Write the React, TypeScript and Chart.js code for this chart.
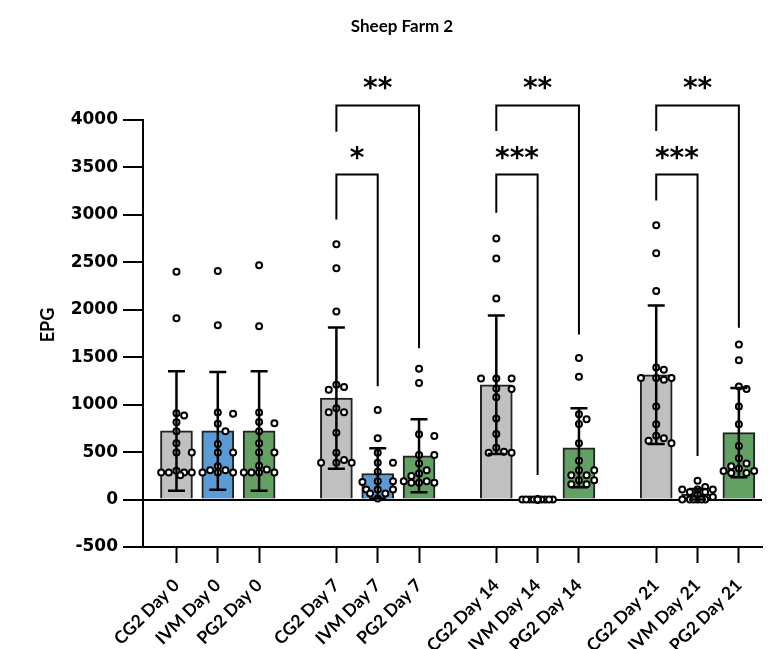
import React, { useEffect, useRef } from 'react';
import { Chart, registerables } from 'chart.js';

Chart.register(...registerables);

const chartTitle = 'Sheep Farm 2';
const yAxisTitle = 'EPG';

const categories = [
  'CG2 Day 0', 'IVM Day 0', 'PG2 Day 0',
  'CG2 Day 7', 'IVM Day 7', 'PG2 Day 7',
  'CG2 Day 14', 'IVM Day 14', 'PG2 Day 14',
  'CG2 Day 21', 'IVM Day 21', 'PG2 Day 21',
];

const meanEPG = [723, 723, 723, 1069, 275, 461, 1210, 0, 546, 1315, 55, 705];
const sdEPG = [630, 620, 630, 745, 265, 385, 730, 0, 417, 730, 55, 470];

const yTicks = [-500, 0, 500, 1000, 1500, 2000, 2500, 3000, 3500, 4000];

// individual animals (EPG)
const cg2Day0 = [2402, 1911, 910, 885, 815, 720, 593, 497, 497, 303, 286, 286, 286, 286, 257];
const ivmDay0 = [2408, 1837, 917, 903, 800, 720, 585, 497, 497, 352, 310, 310, 286, 286, 286];
const pg2Day0 = [2469, 1827, 917, 818, 804, 720, 593, 497, 497, 356, 317, 286, 286, 286, 286];
const cg2Day7 = [2691, 2437, 1982, 1210, 1185, 1157, 963, 921, 921, 705, 493, 416, 387, 387, 387];
const ivmDay7 = [945, 645, 493, 387, 387, 292, 194, 194, 186, 106, 106, 106, 63, 63, 11];
const pg2Day7 = [1379, 1228, 688, 670, 469, 469, 381, 310, 275, 247, 194, 194, 176, 176, 176];
const cg2Day14 = [2751, 2540, 2119, 1276, 1276, 1276, 1170, 1164, 1079, 853, 691, 546, 504, 493, 493];
const ivmDay14 = [0, 0, 0, 0, 0, 0, 0, 0, 0, 0, 0, 0, 0, 0, 0];
const pg2Day14 = [1492, 1294, 899, 847, 797, 593, 408, 310, 310, 257, 257, 204, 204, 160, 160];
const cg2Day21 = [2892, 2596, 2197, 1393, 1368, 1280, 1280, 1280, 1262, 980, 794, 673, 646, 620, 593];
const ivmDay21 = [197, 133, 106, 106, 106, 80, 80, 53, 27, 0, 0, 0, 0, 0, 0];
const pg2Day21 = [1633, 1467, 1192, 1164, 980, 794, 564, 434, 381, 352, 328, 300, 300, 280, 280];

const pointsByBar = [
  cg2Day0, ivmDay0, pg2Day0,
  cg2Day7, ivmDay7, pg2Day7,
  cg2Day14, ivmDay14, pg2Day14,
  cg2Day21, ivmDay21, pg2Day21,
];

// significance comparisons (bar indices, bracket level, leg ends in EPG)
const compFrom = [3, 3, 6, 6, 9, 9];
const compTo = [5, 4, 8, 7, 11, 10];
const compLevel = [4153, 3425, 4153, 3425, 4153, 3425];
const compLegFrom = [3875, 2951, 3883, 3023, 3883, 3152];
const compLegTo = [1594, 1193, 1740, 258, 1811, 460];
const compLabel = ['**', '*', '**', '***', '**', '***'];

const GROUP_STEP = 3.87;
const pos = (i: number) => Math.floor(i / 3) * GROUP_STEP + (i % 3);
const treatmentColors = ['#c0c0c0', '#5b9bd5', '#63a063'];

function swarm(values: number[], center: number) {
  const XPX = 41.6;
  const YPX = 427 / 4500;
  const STEP = 7.7;
  const R = 8;
  const main = [0, STEP, -STEP, 2 * STEP, -2 * STEP];
  const extra = [STEP / 2, -STEP / 2, 1.5 * STEP, -1.5 * STEP];
  const placed: { dx: number; py: number }[] = [];
  const sorted = [...values].sort((a, b) => b - a);
  const minDist = (dx: number, py: number) => {
    let m = Infinity;
    for (const p of placed) {
      const d = Math.hypot(p.dx - dx, p.py - py);
      if (d < m) m = d;
    }
    return m;
  };
  return sorted.map((v) => {
    const py = v * YPX;
    let best = 0;
    let found = false;
    for (const dx of main) {
      if (minDist(dx, py) >= R) {
        best = dx;
        found = true;
        break;
      }
    }
    if (!found) {
      let bestScore = -Infinity;
      for (const dx of [...main, ...extra]) {
        const s = minDist(dx, py);
        if (s > bestScore + 0.01) {
          bestScore = s;
          best = dx;
        }
      }
    }
    placed.push({ dx: best, py });
    return { x: center + best / XPX, y: v };
  });
}

const FONT = 'Lato, "Open Sans", sans-serif';
const WIDE = '"DejaVu Sans", sans-serif';

const overlayPlugin = {
  id: 'overlay',
  afterDatasetsDraw(chart: any) {
    const ctx = chart.ctx;
    const xs = chart.scales.x;
    const ys = chart.scales.y;
    ctx.save();
    ctx.strokeStyle = '#000';
    ctx.lineWidth = 2.5;
    meanEPG.forEach((m, i) => {
      const sd = sdEPG[i];
      if (sd <= 0) return;
      const x = xs.getPixelForValue(pos(i));
      const yt = ys.getPixelForValue(m + sd);
      const yb = ys.getPixelForValue(m - sd);
      ctx.beginPath();
      ctx.moveTo(x, yt);
      ctx.lineTo(x, yb);
      ctx.moveTo(x - 8.5, yt);
      ctx.lineTo(x + 8.5, yt);
      ctx.moveTo(x - 8.5, yb);
      ctx.lineTo(x + 8.5, yb);
      ctx.stroke();
    });
    ctx.restore();
  },
  afterDraw(chart: any) {
    const ctx = chart.ctx;
    const xs = chart.scales.x;
    const ys = chart.scales.y;
    ctx.save();
    ctx.strokeStyle = '#000';
    ctx.fillStyle = '#000';
    ctx.lineWidth = 2;
    compFrom.forEach((f, k) => {
      const x1 = xs.getPixelForValue(pos(f));
      const x2 = xs.getPixelForValue(pos(compTo[k]));
      const yl = ys.getPixelForValue(compLevel[k]);
      const y1 = ys.getPixelForValue(compLegFrom[k]);
      const y2 = ys.getPixelForValue(compLegTo[k]);
      ctx.beginPath();
      ctx.moveTo(x1, y1);
      ctx.lineTo(x1, yl);
      ctx.lineTo(x2, yl);
      ctx.lineTo(x2, y2);
      ctx.stroke();
      ctx.font = `bold 28px ${WIDE}`;
      ctx.textAlign = 'center';
      ctx.textBaseline = 'alphabetic';
      const m = ctx.measureText(compLabel[k]);
      const target = yl - 22;
      const y0 = target - (m.actualBoundingBoxDescent - m.actualBoundingBoxAscent) / 2;
      ctx.fillText(compLabel[k], (x1 + x2) / 2, y0);
    });
    // title
    ctx.font = `bold 17px ${FONT}`;
    ctx.textAlign = 'center';
    ctx.textBaseline = 'middle';
    ctx.fillText(chartTitle, 402, 27);
    // y axis title
    ctx.translate(48, 325);
    ctx.rotate(-Math.PI / 2);
    ctx.font = `bold 18px ${FONT}`;
    ctx.fillText(yAxisTitle, 0, 0);
    ctx.restore();
  },
};

export default function App() {
  const ref = useRef<HTMLCanvasElement | null>(null);
  useEffect(() => {
    if (!ref.current) return;
    const barData = meanEPG.map((m, i) => ({ x: pos(i), y: m }));
    const dotData = pointsByBar.flatMap((vals, i) => swarm(vals, pos(i)));
    const chart = new Chart(ref.current, {
      type: 'bar',
      data: {
        datasets: [
          {
            type: 'bar',
            data: barData as any,
            backgroundColor: categories.map((_, i) => treatmentColors[i % 3]),
            borderColor: '#222',
            borderWidth: 2,
            barThickness: 32,
            order: 2,
          } as any,
          {
            type: 'scatter',
            data: dotData as any,
            pointRadius: 3,
            pointBorderWidth: 2,
            pointBackgroundColor: '#fff',
            pointBorderColor: '#000',
            order: 1,
          } as any,
        ],
      },
      options: {
        responsive: false,
        animation: false,
        devicePixelRatio: 1,
        layout: { padding: { top: 120, left: 0, right: 2, bottom: 0 } },
        plugins: {
          legend: { display: false },
          tooltip: { enabled: false },
          title: { display: false },
        },
        scales: {
          x: {
            type: 'linear',
            min: -0.81,
            max: 14.17,
            offset: false,
            afterBuildTicks: (s: any) => {
              s.ticks = categories.map((_, i) => ({ value: pos(i) }));
            },
            afterFit: (s: any) => {
              s.height = 102;
            },
            ticks: {
              autoSkip: false,
              minRotation: 45,
              maxRotation: 45,
              color: '#000',
              padding: 12,
              font: { family: FONT, weight: 'bold', size: 17.5 },
              callback: (_v: any, idx: number) => categories[idx],
            },
            grid: {
              drawOnChartArea: false,
              offset: false,
              tickLength: 16,
              tickWidth: 2,
              tickColor: '#000',
            },
            border: { color: '#000', width: 2 },
          } as any,
          y: {
            type: 'linear',
            min: -500,
            max: 4000,
            afterBuildTicks: (s: any) => {
              s.ticks = yTicks.map((v) => ({ value: v }));
            },
            afterFit: (s: any) => {
              s.width = 143;
            },
            ticks: {
              color: '#000',
              padding: 5,
              font: { family: WIDE, weight: 'bold', size: 17 },
              callback: (v: any) => String(v),
            },
            grid: {
              drawOnChartArea: true,
              color: (c: any) => (c.tick && c.tick.value === 0 ? '#000' : 'rgba(0,0,0,0)'),
              lineWidth: 2,
              tickLength: 20,
              tickWidth: 2,
              tickColor: '#000',
            },
            border: { color: '#000', width: 2 },
          } as any,
        },
      } as any,
      plugins: [overlayPlugin],
    });
    return () => chart.destroy();
  }, []);
  return (
    <div style={{ position: 'absolute', left: 0, top: 0, width: 768, height: 649, background: '#fff' }}>
      <canvas ref={ref} width={768} height={649} style={{ width: 768, height: 649 }} />
    </div>
  );
}
